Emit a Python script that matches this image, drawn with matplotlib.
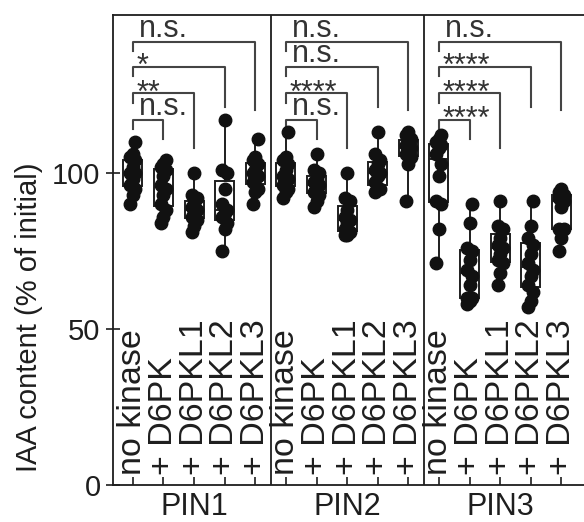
import matplotlib.pyplot as plt
import numpy as np

plt.rcParams['font.family'] = ['Liberation Sans', 'DejaVu Sans']

panels = ['PIN1', 'PIN2', 'PIN3']
treatments = ['no kinase', '+ D6PK', '+ D6PKL1', '+ D6PKL2', '+ D6PKL3']

# IAA content (% of initial), one list per box
pin1 = [
    [90, 93, 95, 96, 98, 100, 100, 102, 104, 105, 106, 110],
    [84, 86, 88, 90, 93, 95, 96, 99, 101, 102, 103, 104],
    [81, 83, 85, 86, 87, 88, 89, 90, 92, 93, 100],
    [75, 82, 84, 86, 87, 88, 90, 95, 100, 101, 117],
    [90, 94, 95, 97, 98, 99, 100, 101, 103, 104, 105, 111],
]
pin2 = [
    [92, 94, 95, 96, 97, 98, 99, 101, 103, 104, 105, 113],
    [89, 91, 93, 94, 95, 96, 97, 98, 100, 101, 106],
    [80, 80, 81, 82, 84, 85, 86, 88, 91, 92, 100],
    [94, 95, 95, 97, 99, 100, 101, 103, 104, 106, 113],
    [91, 103, 105, 106, 107, 108, 109, 110, 111, 112, 113],
]
pin3 = [
    [71, 82, 90, 91, 99, 103, 106, 108, 109, 110, 111, 112],
    [58, 59, 60, 60, 64, 67, 69, 72, 75, 76, 84, 90],
    [64, 68, 71, 72, 74, 76, 77, 79, 82, 83, 91],
    [57, 59, 62, 64, 67, 69, 71, 74, 77, 79, 83, 91],
    [75, 79, 82, 82, 89, 91, 92, 93, 93, 94, 95],
]

# significance vs. "no kinase" for D6PK, D6PKL1, D6PKL2, D6PKL3
signif = [
    ['n.s.', '**', '*', 'n.s.'],
    ['n.s.', '****', 'n.s.', 'n.s.'],
    ['****', '****', '****', 'n.s.'],
]
bracket_top = [117, 125.5, 134, 142]
bracket_tip = [111, 108, 121, 120]

ink = '#1e1e1e'
fs = 21

fig = plt.figure(figsize=(5.84, 5.22), dpi=100)
ax = fig.add_axes([113 / 584, 37 / 522, 1 - 113 / 584, 470 / 522])

groups = pin1 + pin2 + pin3
pos = np.arange(len(groups))

ax.boxplot(groups, positions=pos, widths=0.62, whis=(0, 100), patch_artist=True,
           showfliers=False, showcaps=False,
           boxprops=dict(facecolor='white', edgecolor=ink, linewidth=1.4),
           medianprops=dict(color=ink, linewidth=1.4),
           whiskerprops=dict(color=ink, linewidth=1.4), zorder=2)

for p, vals in zip(pos, groups):
    xs = p + 0.08 * (np.arange(len(vals)) % 3 - 1)
    ax.plot(xs, vals, 'o', color='#111111', markersize=9, zorder=3)

# category labels inside the plot
for p in pos:
    ax.text(p, 3.2, treatments[p % 5], rotation=90, ha='center', va='bottom',
            fontsize=24.5, color=ink)

# panel dividers and names
for k, name in enumerate(panels):
    if k > 0:
        ax.axvline(5 * k - 0.5, color=ink, linewidth=1.3)
    ax.text(5 * k + 2, -0.047, name, transform=ax.get_xaxis_transform(),
            ha='center', va='center', fontsize=22, color=ink)

# significance brackets
for k in range(3):
    x0 = 5 * k
    for j in range(4):
        x1 = x0 + j + 1
        top = bracket_top[j]
        ax.plot([x0, x0, x1, x1], [top - 3, top, top, bracket_tip[j]],
                color='#444444', linewidth=1.5, zorder=1)
        lab = signif[k][j]
        if lab == 'n.s.':
            ax.text(x0 + 0.2, top + 1.6, lab, ha='left', va='baseline',
                    fontsize=22, color='#333333')
        else:
            ax.text(x0 + 0.12, top - 2.6, lab, ha='left', va='baseline',
                    fontsize=22, color='#333333')

ax.set_xlim(-0.65, 14.74)
ax.set_ylim(0, 150.6)
ax.set_xticks(pos)
ax.set_xticklabels([])
ax.set_yticks([0, 50, 100])
ax.tick_params(axis='x', direction='in', length=6, width=1.2, color=ink)
ax.tick_params(axis='y', direction='inout', length=10, width=1.2, color=ink,
               labelsize=fs, labelcolor=ink, pad=4)
ax.set_ylabel('IAA content (% of initial)', fontsize=fs, color=ink)
ax.yaxis.set_label_coords(-0.149, 0.357)
for s in ['left', 'bottom', 'top']:
    ax.spines[s].set_linewidth(1.3)
    ax.spines[s].set_color(ink)
ax.spines['right'].set_visible(False)

fig.savefig('out.png', dpi=100)
